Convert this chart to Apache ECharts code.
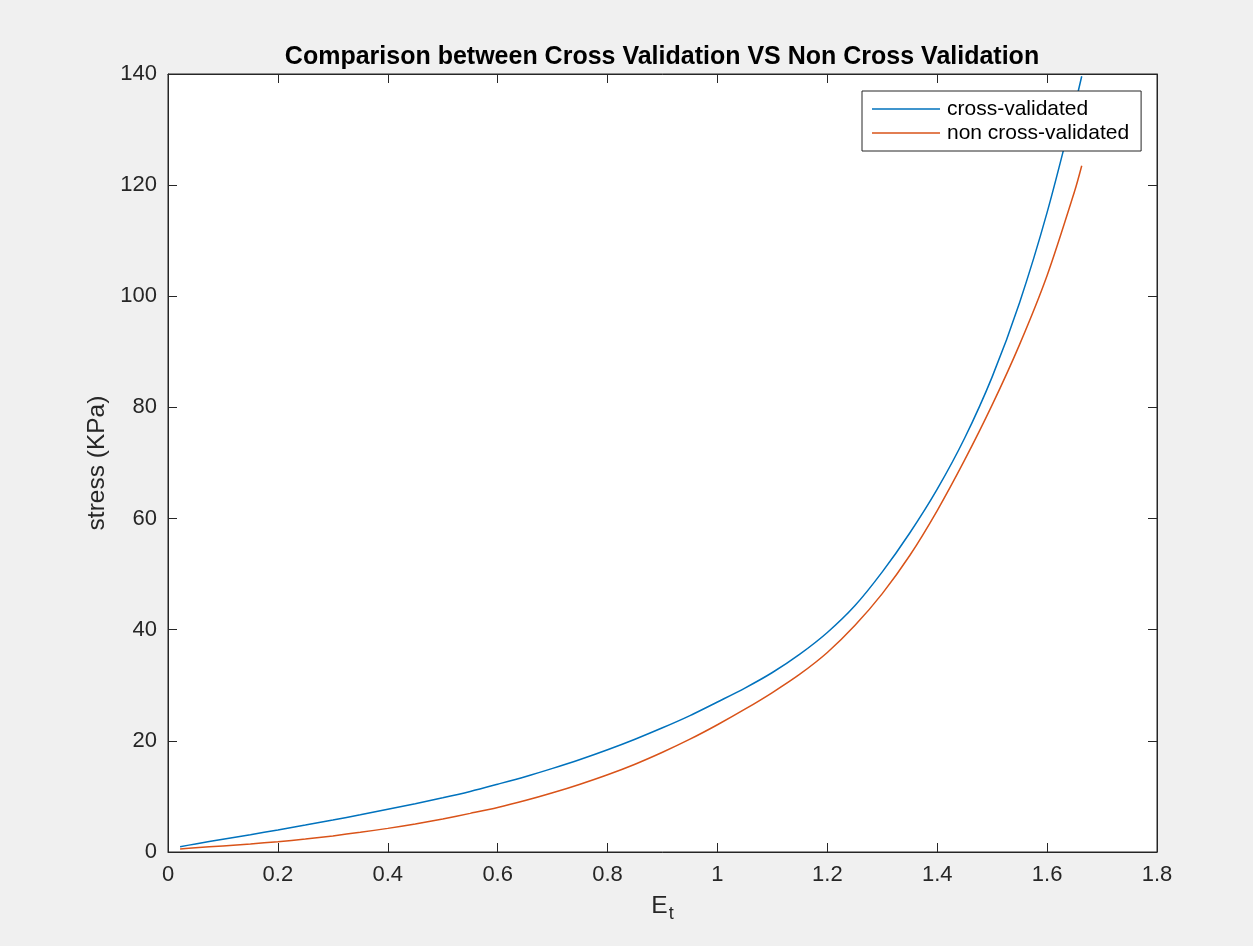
<!DOCTYPE html>
<html>
<head>
<meta charset="utf-8">
<script src="https://cdn.jsdelivr.net/npm/echarts@6/dist/echarts.min.js"></script>
<style>
html,body{margin:0;padding:0;background:#f0f0f0;}
#chart{width:1253px;height:946px;}
</style>
</head>
<body>
<div id="chart"></div>
<script>
// Strain values (E_t)
var strainValues = [0.022, 0.05, 0.1, 0.15, 0.2, 0.25, 0.3, 0.35, 0.4, 0.45, 0.5, 0.55, 0.6, 0.65, 0.7, 0.75, 0.8, 0.85, 0.9, 0.95, 1.0, 1.05, 1.1, 1.15, 1.2, 1.25, 1.3, 1.35, 1.4, 1.45, 1.5, 1.55, 1.6, 1.65, 1.663];
// Stress (KPa), cross-validated fit
var crossValidated = [0.95, 1.45, 2.3, 3.12, 3.96, 4.84, 5.75, 6.7, 7.7, 8.7, 9.75, 10.9, 12.2, 13.55, 15.05, 16.65, 18.4, 20.3, 22.35, 24.55, 27.0, 29.5, 32.3, 35.6, 39.5, 44.3, 50.4, 57.4, 65.3, 74.5, 85.5, 98.9, 115.1, 134.2, 139.6];
// Stress (KPa), non cross-validated fit
var nonCrossValidated = [0.55, 0.75, 1.1, 1.45, 1.85, 2.33, 2.9, 3.55, 4.25, 5.05, 5.95, 6.95, 8.0, 9.25, 10.65, 12.2, 13.9, 15.8, 17.95, 20.3, 22.9, 25.7, 28.7, 32.0, 35.9, 40.75, 46.5, 53.35, 61.45, 70.55, 80.45, 91.35, 103.75, 118.9, 123.5];
var xTicks = {min: 0, max: 1.8, interval: 0.2};
var yTicks = {min: 0, max: 140, interval: 20};

function pairs(ys) {
  return strainValues.map(function (x, i) { return [x, ys[i]]; });
}

var axisColor = '#262626';
var font = 'Liberation Sans, Arial, sans-serif';
var chart = echarts.init(document.getElementById('chart'), null, {renderer: 'canvas'});

function xAxisDef(pos, showLabel) {
  return {
    type: 'value', position: pos,
    min: xTicks.min, max: xTicks.max, interval: xTicks.interval,
    axisLine: {show: true, onZero: false, lineStyle: {color: axisColor, width: 1}},
    axisTick: {show: true, inside: true, length: 9, lineStyle: {color: axisColor, width: 1}},
    axisLabel: {show: showLabel, color: axisColor, fontSize: 22, margin: 12, fontFamily: font},
    splitLine: {show: false}
  };
}
function yAxisDef(pos, showLabel) {
  return {
    type: 'value', position: pos,
    min: yTicks.min, max: yTicks.max, interval: yTicks.interval,
    axisLine: {show: true, onZero: false, lineStyle: {color: axisColor, width: 1}},
    axisTick: {show: true, inside: true, length: 9, lineStyle: {color: axisColor, width: 1}},
    axisLabel: {show: showLabel, color: axisColor, fontSize: 22, margin: 11, fontFamily: font},
    splitLine: {show: false}
  };
}

var xMain = xAxisDef('bottom', true);
xMain.name = '{e|E}{t|t}';
xMain.nameLocation = 'middle';
xMain.nameGap = 42;
xMain.nameTextStyle = {
  rich: {
    e: {fontSize: 24.5, color: axisColor, fontFamily: font, verticalAlign: 'top', lineHeight: 26},
    t: {fontSize: 18, color: axisColor, fontFamily: font, padding: [14, 0, 0, 1], lineHeight: 26}
  }
};
var yMain = yAxisDef('left', true);
yMain.name = 'stress (KPa)';
yMain.nameLocation = 'middle';
yMain.nameGap = 58;
yMain.nameTextStyle = {fontSize: 24.5, color: axisColor, fontFamily: font};

var option = {
  backgroundColor: '#f0f0f0',
  animation: false,
  title: {
    text: 'Comparison between Cross Validation VS Non Cross Validation',
    left: 662, textAlign: 'center', top: 45, padding: 0,
    textStyle: {fontSize: 25, fontWeight: 'bold', color: '#000', fontFamily: font}
  },
  grid: {left: 168, right: 96, top: 74, bottom: 94, show: true, backgroundColor: '#ffffff', borderColor: axisColor, borderWidth: 1},
  legend: {
    orient: 'vertical', left: 862, top: 91,
    padding: [6, 12, 6, 10], itemGap: 0,
    backgroundColor: '#ffffff', borderColor: axisColor, borderWidth: 1,
    itemWidth: 68, itemHeight: 1.5, icon: 'rect',
    textStyle: {fontSize: 21, lineHeight: 24, color: '#000', padding: [0, 0, 0, 2], fontFamily: font},
    data: ['cross-validated', 'non cross-validated']
  },
  xAxis: [xMain, xAxisDef('top', false)],
  yAxis: [yMain, yAxisDef('right', false)],
  series: [
    {name: 'cross-validated', type: 'line', xAxisIndex: 0, yAxisIndex: 0, data: pairs(crossValidated),
     showSymbol: false, symbol: 'none', smooth: 0.3,
     lineStyle: {color: '#0072BD', width: 1.5}, itemStyle: {color: '#0072BD'}},
    {name: 'non cross-validated', type: 'line', xAxisIndex: 0, yAxisIndex: 0, data: pairs(nonCrossValidated),
     showSymbol: false, symbol: 'none', smooth: 0.3,
     lineStyle: {color: '#D95319', width: 1.5}, itemStyle: {color: '#D95319'}}
  ]
};
chart.setOption(option);
</script>
</body>
</html>
